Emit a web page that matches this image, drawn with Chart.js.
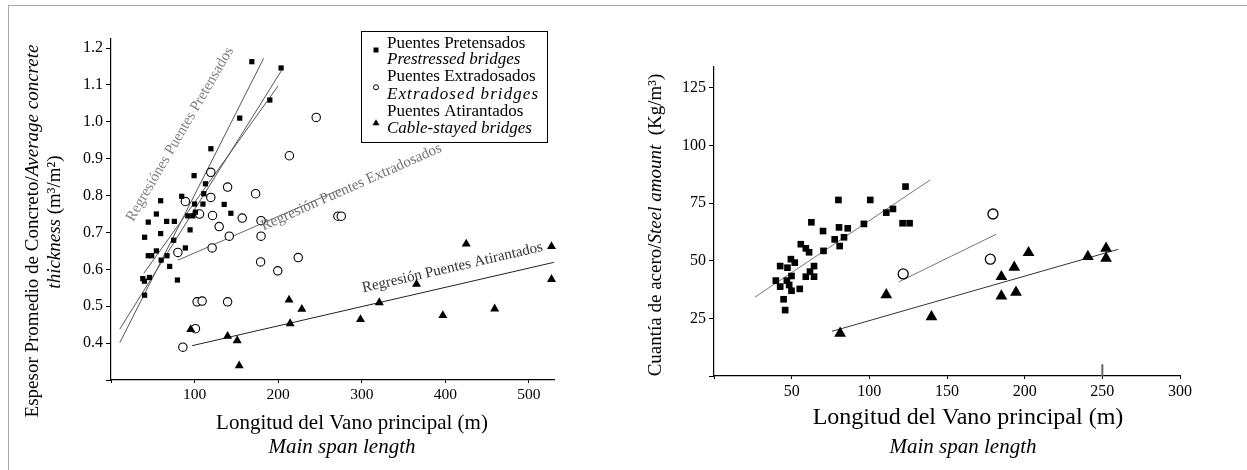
<!DOCTYPE html>
<html><head><meta charset="utf-8">
<script src="https://cdn.jsdelivr.net/npm/chart.js@4.4.1/dist/chart.umd.min.js"></script>
<style>
html,body{margin:0;padding:0;width:1247px;height:470px;overflow:hidden;background:#fff;}
#frame{position:absolute;left:8px;top:5px;width:1400px;height:600px;border:1.5px solid #a8a8a8;}
canvas{position:absolute;left:0;top:0;}
</style></head><body>
<div id="frame"></div>
<canvas id="c1" width="1247" height="470" style="width:1247px;height:470px"></canvas>
<canvas id="c2" width="1247" height="470" style="width:1247px;height:470px"></canvas>
<script>
// ---------- LEFT PANEL DATA: concrete thickness (m3/m2) vs main span (m) ----------
const thickPrestressed = [[168.5,1.163],[203.5,1.146],[190,1.059],[154,1.01],[119.5,0.927],[99.4,0.854],[113,0.832],[111,0.805],[84.6,0.798],[59.4,0.786],[100,0.777],[110,0.777],[135.4,0.776],[54.3,0.75],[143.4,0.752],[92,0.745],[98,0.745],[101,0.755],[44.6,0.728],[66.6,0.73],[75.8,0.73],[59.4,0.697],[94.6,0.707],[40.2,0.687],[75,0.679],[89,0.658],[54.3,0.65],[44.6,0.637],[48.6,0.637],[67,0.637],[70.2,0.608],[60,0.625],[38,0.575],[40,0.568],[46,0.578],[79.5,0.571],[40.2,0.53]];
const thickExtradosed = [[245.5,1.012],[213.4,0.908],[119.4,0.863],[139.5,0.823],[173,0.805],[119.4,0.795],[89,0.784],[106,0.75],[121.5,0.746],[157,0.739],[179.5,0.732],[129.4,0.716],[141.5,0.69],[179.5,0.69],[271.5,0.744],[275.5,0.744],[179,0.62],[224,0.632],[199.5,0.596],[80,0.646],[121,0.658],[103,0.512],[109,0.514],[139.5,0.512],[101,0.439],[86,0.389]];
const thickCableStayed = [[95.4,0.437],[139.5,0.419],[151,0.407],[153.4,0.339],[213,0.517],[228.3,0.492],[214.3,0.453],[298.5,0.464],[321,0.51],[365.5,0.56],[397,0.475],[425,0.669],[459,0.493],[527,0.662],[527,0.573]];
const thickRegPre1 = [[10.5,0.401],[182.6,1.172]];
const thickRegPre2 = [[10.5,0.438],[203.7,1.138]];
const thickRegPre3 = [[39.2,0.589],[199.8,1.097]];
const thickRegExt = [[80.3,0.625],[274.2,0.817]];
const thickRegCab = [[97,0.393],[529.9,0.619]];
const thickXTicks = [100,200,300,400,500];
const thickYTicks = [0.4,0.5,0.6,0.7,0.8,0.9,1.0,1.1,1.2];

// ---------- RIGHT PANEL DATA: steel amount (Kg/m3) vs main span (m) ----------
const steelPrestressed = [[123.3,82.2],[80.1,76.4],[100.6,76.4],[110.9,70.9],[115.2,72.5],[121.4,66.3],[125.9,66.3],[62.7,66.7],[96.5,66],[70.2,62.9],[80.5,64.5],[86.1,64.1],[77.7,59.3],[83.7,60.2],[80.9,56.4],[55.9,57.2],[59.1,55.4],[61.2,53.7],[70.5,54.3],[49.5,50.7],[42.6,47.7],[47.3,47],[52,49.2],[64.4,47.7],[39.8,41.4],[49.9,43.4],[59.1,43.1],[64.4,43.1],[61.8,45.3],[46.9,41.4],[42.6,38.8],[48.4,39.5],[49.9,37],[55.2,37.8],[44.8,33.3],[45.8,28.6]];
const steelExtradosed = [[121.8,44.3],[179.6,70.3],[177.9,50.7]];
const steelCableStayed = [[81.2,18.5],[110.9,35.2],[140,25.7],[185,43.1],[185,34.7],[193.3,47.2],[194.4,36.3],[202.5,53.5],[240.7,51.8],[252.4,55.4],[252.4,51.1]];
const steelRegPre = [[26.3,34.2],[139.2,85.1]];
const steelRegExt = [[118.8,40.8],[181.6,61.5]];
const steelRegCab = [[76,19.4],[260.3,55]];
const steelMarker250 = [[250,0],[250,5.1]];
const steelXTicks = [50,100,150,200,250,300];
const steelYTicks = [25,50,75,100,125];

// ---------- TEXT ----------
const legendRows = [
  {t:'Puentes Pretensados', i:false, m:'rect', my:50},
  {t:'Prestressed bridges', i:true},
  {t:'Puentes Extradosados', i:false, m:'circle', my:87.3},
  {t:'Extradosed bridges', i:true, fit:151},
  {t:'Puentes Atirantados', i:false, m:'triangle', my:122.7},
  {t:'Cable-stayed bridges', i:true}
];

const FONT = '"Liberation Serif", "Times New Roman", serif';
const pts = a => a.map(([x,y]) => ({x, y}));

function rich(ctx, segs, x, y, rot, size, color) {
  ctx.save();
  ctx.translate(x, y);
  ctx.rotate(rot * Math.PI / 180);
  ctx.textBaseline = 'middle';
  ctx.textAlign = 'left';
  ctx.fillStyle = color || '#000';
  let total = 0;
  const ws = segs.map(s => { ctx.font = (s.i ? 'italic ' : '') + size + 'px ' + FONT; const w = ctx.measureText(s.t).width; total += w; return w; });
  let cx = -total / 2;
  segs.forEach((s, k) => { ctx.font = (s.i ? 'italic ' : '') + size + 'px ' + FONT; ctx.fillText(s.t, cx, 0); cx += ws[k]; });
  ctx.restore();
}

function regLabel(chart, text, dx, dy, angle, size, color) {
  const ctx = chart.ctx, xs = chart.scales.x, ys = chart.scales.y;
  const px = xs.getPixelForValue(dx), py = ys.getPixelForValue(dy);
  ctx.save();
  ctx.translate(px, py);
  ctx.rotate(angle * Math.PI / 180);
  ctx.font = size + 'px ' + FONT;
  ctx.fillStyle = color;
  ctx.textAlign = 'center';
  ctx.textBaseline = 'alphabetic';
  ctx.fillText(text, 0, 0);
  ctx.restore();
}

function axisCfg(min, max, list, extra, fmt, fitKey, fitVal, fontSize, tickLen) {
  return {
    type: 'linear', min, max,
    afterBuildTicks: s => { s.ticks = [extra, ...list].map(v => ({value: v})); },
    afterFit: s => { s[fitKey] = fitVal; },
    ticks: { callback: v => list.includes(v) ? fmt(v) : '', font: {family: FONT, size: fontSize}, color: '#000', padding: 3, maxRotation: 0, autoSkip: false },
    grid: { display: true, drawOnChartArea: false, drawTicks: true, tickLength: tickLen, color: '#000', lineWidth: 1 },
    border: { display: true, color: '#000', width: 1.2 }
  };
}

const common = { responsive: false, animation: false, events: [], plugins: { legend: {display: false}, tooltip: {enabled: false} } };

// ---------- LEFT CHART ----------
const leftDecor = {
  id: 'leftDecor',
  afterDraw(chart) {
    const ctx = chart.ctx;
    rich(ctx, [{t:'Espesor Promedio de Concreto/'}, {t:'Average concrete', i:true}], 33, 231, -90, 19);
    rich(ctx, [{t:'thickness', i:true}, {t:' (m³/m²)'}], 55, 222, -90, 19);
    rich(ctx, [{t:'Longitud del Vano principal (m)'}], 352, 423, 0, 21);
    rich(ctx, [{t:'Main span length', i:true}], 342, 447, 0, 21);
    regLabel(chart, 'Regresiónes Puentes Pretensados', 86.6, 0.961, -59.7, 15, '#808080');
    regLabel(chart, 'Regresión Puentes Extradosados', 289.5, 0.813, -23.9, 15, '#707070');
    regLabel(chart, 'Regresión Puentes Atirantados', 409.6, 0.594, -13, 15, '#333');
    ctx.save();
    ctx.strokeStyle = '#000'; ctx.lineWidth = 1;
    ctx.strokeRect(361.5, 31.5, 186, 111);
    const ys = [43.3, 60, 76.7, 95, 111.7, 128.3];
    legendRows.forEach((r, k) => {
      ctx.font = (r.i ? 'italic ' : '') + '17px ' + FONT;
      ctx.fillStyle = '#000'; ctx.textBaseline = 'middle'; ctx.textAlign = 'left';
      if (r.fit) {
        const nat = ctx.measureText(r.t).width;
        ctx.letterSpacing = ((r.fit - nat) / (r.t.length - 1)).toFixed(2) + 'px';
      } else ctx.letterSpacing = '0px';
      ctx.fillText(r.t, 387, ys[k]);
      ctx.letterSpacing = '0px';
      const my = r.my;
      if (r.m === 'rect') { ctx.fillRect(373.5, my - 2.5, 5, 5); }
      if (r.m === 'circle') { ctx.beginPath(); ctx.arc(376, my, 2.5, 0, Math.PI * 2); ctx.lineWidth = 1; ctx.stroke(); }
      if (r.m === 'triangle') { ctx.beginPath(); ctx.moveTo(376, my - 3.5); ctx.lineTo(379.5, my + 2.5); ctx.lineTo(372.5, my + 2.5); ctx.closePath(); ctx.fill(); }
    });
    ctx.restore();
  }
};

const lineDs = (arr, color, w) => ({ data: pts(arr), showLine: true, pointRadius: 0, borderColor: color, borderWidth: w || 1, backgroundColor: color, clip: false, order: 5 });

new Chart(document.getElementById('c1'), {
  type: 'scatter',
  data: { datasets: [
    { data: pts(thickPrestressed), pointStyle: 'rect', pointRadius: 3.7, backgroundColor: '#000', borderColor: '#000', borderWidth: 0, clip: false, order: 2 },
    { data: pts(thickExtradosed), pointStyle: 'circle', pointRadius: 4.2, backgroundColor: '#fff', borderColor: '#000', borderWidth: 1.1, clip: false, order: 3 },
    { data: pts(thickCableStayed), pointStyle: 'triangle', pointRadius: 5.2, backgroundColor: '#000', borderColor: '#000', borderWidth: 0, clip: false, order: 1 },
    lineDs(thickRegPre1, '#555'), lineDs(thickRegPre2, '#555'), lineDs(thickRegPre3, '#555'),
    lineDs(thickRegExt, '#666'), lineDs(thickRegCab, '#222')
  ]},
  options: Object.assign({}, common, {
    layout: { padding: { left: 111 - 60, right: 1247 - 554, top: 39, bottom: 470 - 380 - 40 } },
    scales: {
      x: axisCfg(0, 530, thickXTicks, 0, v => String(v), 'height', 40, 15.5, 3),
      y: axisCfg(0.3, 1.2245, thickYTicks, 0.3, v => v.toFixed(1), 'width', 60, 16, 5)
    }
  }),
  plugins: [leftDecor]
});

// ---------- RIGHT CHART ----------
const rightDecor = {
  id: 'rightDecor',
  afterDraw(chart) {
    const ctx = chart.ctx;
    rich(ctx, [{t:'Cuantía de acero/'}, {t:'Steel amount', i:true}, {t:'  (Kg/m³)'}], 656, 225, -90, 19);
    rich(ctx, [{t:'Longitud del Vano principal (m)'}], 968, 418, 0, 24);
    rich(ctx, [{t:'Main span length', i:true}], 963, 447, 0, 21);
  }
};

new Chart(document.getElementById('c2'), {
  type: 'scatter',
  data: { datasets: [
    { data: pts(steelPrestressed), pointStyle: 'rect', pointRadius: 4.7, backgroundColor: '#000', borderColor: '#000', borderWidth: 0, clip: false, order: 2 },
    { data: pts(steelExtradosed), pointStyle: 'circle', pointRadius: 5, backgroundColor: '#fff', borderColor: '#000', borderWidth: 1.3, clip: false, order: 3 },
    { data: pts(steelCableStayed), pointStyle: 'triangle', pointRadius: 6.8, backgroundColor: '#000', borderColor: '#000', borderWidth: 0, clip: false, order: 1 },
    lineDs(steelRegPre, '#777'), lineDs(steelRegExt, '#777'), lineDs(steelRegCab, '#333'),
    lineDs(steelMarker250, '#666', 2)
  ]},
  options: Object.assign({}, common, {
    layout: { padding: { left: 714 - 60, right: 1247 - 1180, top: 67, bottom: 470 - 376 - 40 } },
    scales: {
      x: axisCfg(0, 300, steelXTicks, 0, v => String(v), 'height', 40, 16, 3),
      y: axisCfg(0, 134.1, steelYTicks, 0, v => String(v), 'width', 60, 16, 5)
    }
  }),
  plugins: [rightDecor]
});
</script>
</body></html>
